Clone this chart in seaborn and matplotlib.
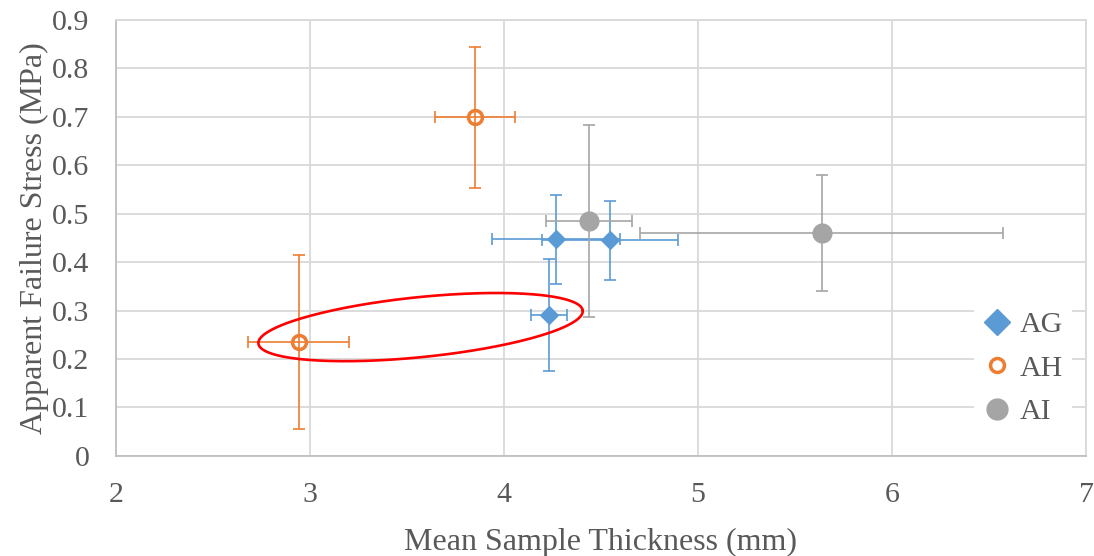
import numpy as np
import matplotlib
matplotlib.use('Agg')
import matplotlib.pyplot as plt
from matplotlib.lines import Line2D
import seaborn as sns

# Data
ag_x = [4.268, 4.546, 4.232]
ag_y = [0.447, 0.445, 0.291]
ag_xerr = [0.33, 0.35, 0.095]
ag_yerr = [0.092, 0.082, 0.115]

ah_x = [2.943, 3.851]
ah_y = [0.235, 0.699]
ah_xerr = [0.26, 0.207]
ah_yerr = [0.18, 0.145]

ai_x = [4.438, 5.638]
ai_y = [0.485, 0.461]
ai_xerr = [0.223, 0.935]
ai_yerr = [0.198, 0.12]

series_names = ['AG', 'AH', 'AI']
colors = ['#5B9BD5', '#ED7D31', '#A5A5A5']
x_ticks = [2, 3, 4, 5, 6, 7]
y_ticks = [0, 0.1, 0.2, 0.3, 0.4, 0.5, 0.6, 0.7, 0.8, 0.9]
y_tick_labels = ['0', '0.1', '0.2', '0.3', '0.4', '0.5', '0.6', '0.7', '0.8', '0.9']

sns.set_style('white')
plt.rcParams['font.family'] = ['Liberation Serif', 'DejaVu Serif']
text_color = '#595959'

fig = plt.figure(figsize=(10.94, 5.56), dpi=100)
ax = fig.add_axes([0.106, 0.18, 0.8867, 0.784])
ax.set_xlim(2, 7)
ax.set_ylim(0, 0.9)

# markers
sns.scatterplot(x=ag_x, y=ag_y, ax=ax, marker='D', s=100, color=colors[0],
                edgecolor=colors[0], linewidth=0, zorder=3)
sns.scatterplot(x=ah_x, y=ah_y, ax=ax, marker='o', s=100, facecolor='white',
                edgecolor=colors[1], linewidth=2.5, zorder=3)
sns.scatterplot(x=ai_x, y=ai_y, ax=ax, marker='o', s=210, color=colors[2],
                edgecolor=colors[2], linewidth=0, zorder=3)

# error bars on top of the markers
err_kw = dict(fmt='none', elinewidth=1.2, capsize=4, capthick=1.2, zorder=4)
ax.errorbar(ag_x, ag_y, xerr=ag_xerr, yerr=ag_yerr, ecolor=colors[0], **err_kw)
ax.errorbar(ah_x, ah_y, xerr=ah_xerr, yerr=ah_yerr, ecolor=colors[1], **err_kw)
ax.errorbar(ai_x, ai_y, xerr=ai_xerr, yerr=ai_yerr, ecolor=colors[2], **err_kw)

# red ellipse annotation (drawn in screen space so it keeps its shape)
fig.canvas.draw()
cx, cy = ax.transData.transform((3.57, 0.266))
a, b, theta = 163, 30, np.deg2rad(5.8)
t = np.linspace(0, 2 * np.pi, 300)
ex = cx + a * np.cos(t) * np.cos(theta) - b * np.sin(t) * np.sin(theta)
ey = cy + a * np.cos(t) * np.sin(theta) + b * np.sin(t) * np.cos(theta)
ell = ax.transData.inverted().transform(np.column_stack([ex, ey]))
ax.plot(ell[:, 0], ell[:, 1], color='red', lw=1.9, zorder=5)

# axes styling
ax.set_xticks(x_ticks)
ax.set_yticks(y_ticks)
ax.set_yticklabels(y_tick_labels)
ax.grid(True, color='#D9D9D9', linewidth=1.3)
ax.set_axisbelow(True)
for side in ['top', 'right']:
    ax.spines[side].set_color('#D9D9D9')
    ax.spines[side].set_linewidth(1.3)
for side in ['left', 'bottom']:
    ax.spines[side].set_color('#BFBFBF')
    ax.spines[side].set_linewidth(1.3)
ax.tick_params(axis='both', length=0, labelsize=21.5, labelcolor=text_color)
ax.tick_params(axis='x', pad=19)
ax.tick_params(axis='y', pad=19)

ax.set_xlabel('Mean Sample Thickness (mm)', fontsize=23, color=text_color, labelpad=14)
ax.set_ylabel('Apparent Failure Stress (MPa)', fontsize=23, color=text_color, labelpad=2)

handles = [
    Line2D([], [], linestyle='none', marker='D', markersize=13, color=colors[0]),
    Line2D([], [], linestyle='none', marker='o', markersize=10, markerfacecolor='white',
           markeredgecolor=colors[1], markeredgewidth=2.5),
    Line2D([], [], linestyle='none', marker='o', markersize=15, color=colors[2]),
]
leg = ax.legend(handles, series_names, loc='lower right', bbox_to_anchor=(1.001, 0.015),
                frameon=True, fontsize=21.5, labelcolor=text_color, handlelength=1.0,
                handletextpad=0.25, labelspacing=0.56, borderpad=0.3)
leg.get_frame().set_edgecolor('none')
leg.get_frame().set_facecolor('white')
leg.get_frame().set_alpha(1)

fig.savefig('out.png', dpi=100)
